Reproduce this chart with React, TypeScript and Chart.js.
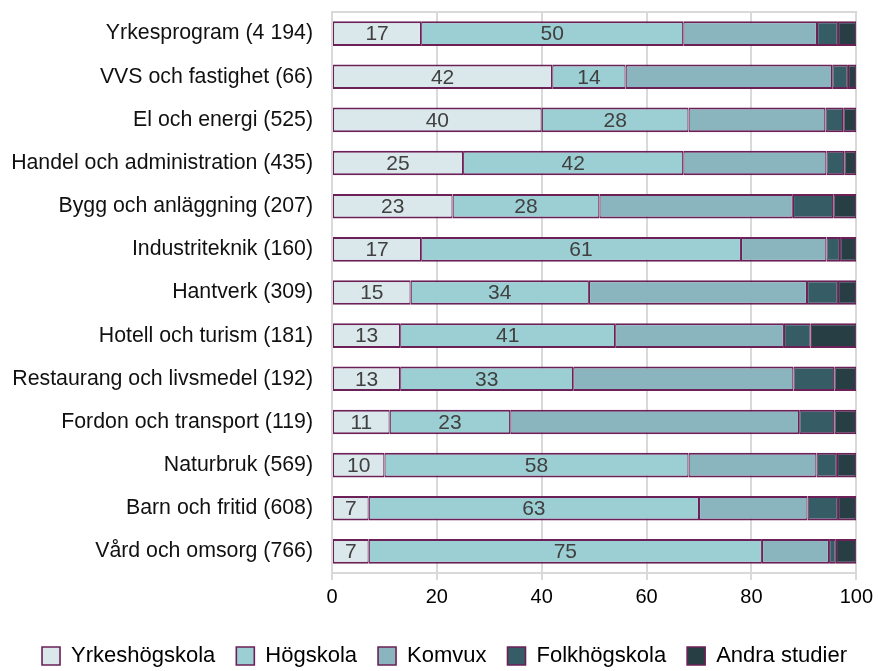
import React, { useEffect, useRef } from "react";
import { Chart, registerables } from "chart.js";

Chart.register(...registerables);

const categories = [
  "Yrkesprogram (4 194)",
  "VVS och fastighet (66)",
  "El och energi (525)",
  "Handel och administration (435)",
  "Bygg och anläggning (207)",
  "Industriteknik (160)",
  "Hantverk (309)",
  "Hotell och turism (181)",
  "Restaurang och livsmedel (192)",
  "Fordon och transport (119)",
  "Naturbruk (569)",
  "Barn och fritid (608)",
  "Vård och omsorg (766)",
];

const seriesNames = ["Yrkeshögskola", "Högskola", "Komvux", "Folkhögskola", "Andra studier"];

const yrkeshogskola = [17, 42, 40, 25, 23, 17, 15, 13, 13, 11, 10, 7, 7];
const hogskola = [50, 14, 28, 42, 28, 61, 34, 41, 33, 23, 58, 63, 75];
const komvux = [25.5, 39.4, 26.1, 27.3, 36.9, 16.3, 41.6, 32.2, 42, 55.1, 24.4, 20.7, 12.8];
const folkhogskola = [4, 3, 3.4, 3.4, 7.7, 2.6, 5.9, 5.1, 7.8, 6.7, 3.9, 5.8, 1.3];
const andraStudier = [3.5, 1.6, 2.5, 2.3, 4.4, 3.1, 3.5, 8.7, 4.2, 4.2, 3.7, 3.5, 3.9];

const xTicks = [0, 20, 40, 60, 80, 100];

const colors = ["#dae8ec", "#9bcfd3", "#8bb5be", "#365d65", "#263e44"];
const borderColor = "#6b2157";
const gridColor = "#d9d9d9";
const FONT = "'Liberation Sans', Arial, Helvetica, sans-serif";

const labelPlugin = {
  id: "segLabels",
  afterDatasetsDraw(chart: any) {
    const ctx = chart.ctx;
    ctx.save();
    ctx.font = `21px ${FONT}`;
    ctx.fillStyle = "#404040";
    ctx.textAlign = "center";
    ctx.textBaseline = "middle";
    [0, 1].forEach((di) => {
      const meta = chart.getDatasetMeta(di);
      const data = chart.data.datasets[di].data as number[];
      meta.data.forEach((el: any, i: number) => {
        const c = el.getCenterPoint();
        ctx.fillText(String(Math.round(data[i])), c.x, c.y + 1);
      });
    });
    ctx.restore();
  },
};

const frameTopPlugin = {
  id: "frameTop",
  afterLayout(chart: any) {
    if (chart.legend) {
      chart.legend.left += 15;
      chart.legend.right += 15;
    }
  },
  beforeDatasetsDraw(chart: any) {
    const { ctx, chartArea } = chart;
    ctx.save();
    ctx.strokeStyle = gridColor;
    ctx.lineWidth = 2;
    ctx.beginPath();
    ctx.moveTo(chartArea.left, chartArea.top);
    ctx.lineTo(chartArea.right + 1, chartArea.top);
    ctx.stroke();
    ctx.restore();
  },
};

export default function App() {
  const ref = useRef<HTMLCanvasElement | null>(null);

  useEffect(() => {
    if (!ref.current) return;
    Chart.defaults.font.family = FONT;
    const allSeries = [yrkeshogskola, hogskola, komvux, folkhogskola, andraStudier];
    const chart = new Chart(ref.current, {
      type: "bar",
      data: {
        labels: categories,
        datasets: allSeries.map((d, i) => ({
          label: seriesNames[i],
          data: d,
          backgroundColor: colors[i],
          borderColor: borderColor,
          borderWidth: { top: 2, bottom: 2, left: 1.2, right: 1.2 },
          borderSkipped: false,
          barPercentage: 0.57,
          categoryPercentage: 1,
        })),
      },
      options: {
        indexAxis: "y",
        responsive: false,
        animation: false,
        devicePixelRatio: 1,
        layout: { padding: { top: 12, right: 19, bottom: -6, left: 0 } },
        plugins: {
          tooltip: { enabled: false },
          legend: {
            position: "bottom",
            labels: {
              boxWidth: 18,
              boxHeight: 18,
              padding: 21,
              color: "#000",
              font: { size: 22, family: FONT },
            },
          },
        },
        scales: {
          x: {
            stacked: true,
            min: 0,
            max: 100,
            afterBuildTicks: (s: any) => {
              s.ticks = xTicks.map((v) => ({ value: v }));
            },
            afterFit: (s: any) => {
              s.height = 51;
            },
            ticks: { color: "#000", font: { size: 20, family: FONT }, padding: 5 },
            grid: { color: gridColor, lineWidth: 2, tickLength: 7 },
            border: { color: gridColor, width: 2 },
          },
          y: {
            stacked: true,
            afterFit: (s: any) => {
              s.width = 332;
              s.paddingTop = 0;
              s.paddingBottom = 0;
            },
            ticks: { color: "#111", font: { size: 21.3, family: FONT }, padding: 19, autoSkip: false },
            grid: { drawOnChartArea: false, drawTicks: false },
            border: { color: gridColor, width: 2 },
          },
        },
      },
      plugins: [frameTopPlugin, labelPlugin],
    } as any);
    return () => chart.destroy();
  }, []);

  return (
    <div style={{ position: "fixed", left: 0, top: 0, width: 878, height: 671, background: "#fff" }}>
      <canvas ref={ref} width={878} height={671} style={{ width: 878, height: 671, display: "block" }} />
    </div>
  );
}
